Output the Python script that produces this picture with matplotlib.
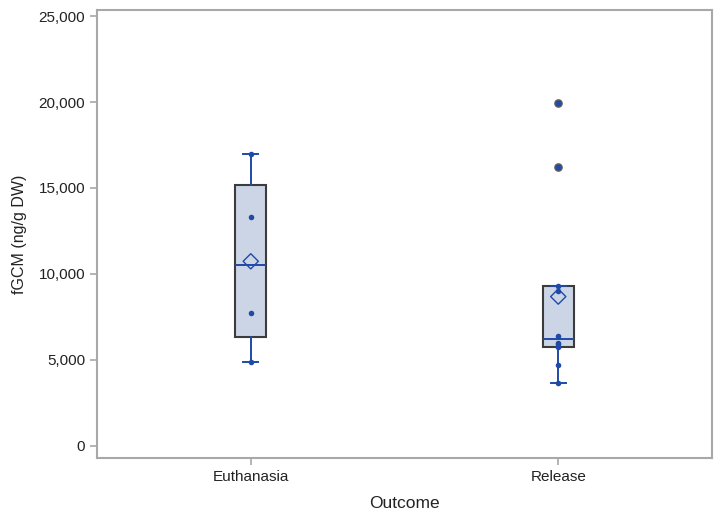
import numpy as np
import matplotlib
matplotlib.use("Agg")
import matplotlib.pyplot as plt
from matplotlib.ticker import FuncFormatter

plt.rcParams['font.family'] = ['Liberation Sans', 'DejaVu Sans']

# fGCM values
outcomes = ["Euthanasia", "Release"]
euthanasia = [4900, 7750, 13300, 17000]
release = [3650, 4700, 5750, 5900, 6000, 6400, 9000, 9300, 16200, 19950]

dot_color = "#1f4aa8"
box_fill = "#cbd5e6"
box_edge = "#3c3c3c"
frame_color = "#a8a8a8"


def pctl(v, p):
    # SAS default percentile definition (empirical with averaging)
    v = sorted(v)
    n = len(v)
    np_ = n * p
    j = int(np.floor(np_))
    g = np_ - j
    if g == 0:
        return (v[j - 1] + v[j]) / 2
    return v[j]


def box_stats(v, label):
    q1, med, q3 = pctl(v, 0.25), pctl(v, 0.5), pctl(v, 0.75)
    iqr = q3 - q1
    lo_f, hi_f = q1 - 1.5 * iqr, q3 + 1.5 * iqr
    inside = [x for x in v if lo_f <= x <= hi_f]
    fliers = [x for x in v if x < lo_f or x > hi_f]
    return dict(label=label, q1=q1, med=med, q3=q3, mean=np.mean(v),
                whislo=min(inside), whishi=max(inside), fliers=fliers)


groups = [euthanasia, release]
stats = [box_stats(v, l) for v, l in zip(groups, outcomes)]

fig = plt.figure(figsize=(7.2, 5.17), dpi=100)
ax = fig.add_axes([97 / 720, 59 / 517, 615 / 720, 448 / 517])

pos = [1, 2]
ax.bxp(stats, positions=pos, widths=0.1, patch_artist=True, showmeans=False,
       showfliers=False,
       boxprops=dict(facecolor=box_fill, edgecolor=box_edge, linewidth=1.5),
       medianprops=dict(color=dot_color, linewidth=1.4),
       whiskerprops=dict(color=dot_color, linewidth=1.4),
       capprops=dict(color=dot_color, linewidth=1.4),
       capwidths=0.05, zorder=2)

for p, v, s in zip(pos, groups, stats):
    normal = [x for x in v if x not in s["fliers"]]
    ax.scatter([p] * len(normal), normal, s=16, color=dot_color, zorder=4, linewidths=0)
    if s["fliers"]:
        ax.scatter([p] * len(s["fliers"]), s["fliers"], s=26, facecolor=dot_color,
                   edgecolor="#5a5a5a", linewidths=1.1, zorder=4)
    ax.scatter([p], [s["mean"]], s=60, marker="D", facecolor="none",
               edgecolor=dot_color, linewidths=1.0, zorder=5)

ax.set_xlim(0.5, 2.5)
ax.set_ylim(-700, 25350)
ax.set_yticks(np.arange(0, 25001, 5000))
ax.yaxis.set_major_formatter(FuncFormatter(lambda x, _: f"{int(x):,}"))
ax.set_xticks(pos)
ax.set_xticklabels(outcomes)

for sp in ax.spines.values():
    sp.set_color(frame_color)
    sp.set_linewidth(1.5)
ax.tick_params(colors=frame_color, labelcolor="#222222", labelsize=11,
               length=5, width=1.2)

ax.set_xlabel("Outcome", fontsize=12.5, color="#222222", labelpad=9)
ax.set_ylabel("fGCM (ng/g DW)", fontsize=11.5, color="#222222", labelpad=8)

fig.savefig("out.png", dpi=100)
